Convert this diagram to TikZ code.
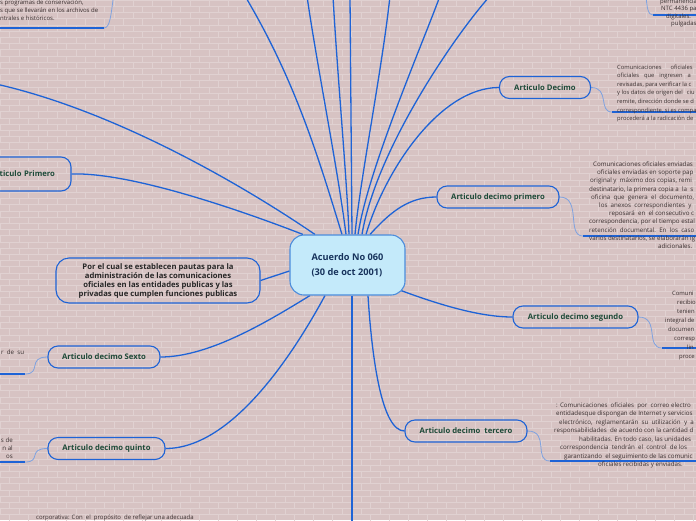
\documentclass[tikz,border=0pt]{standalone}
\usepackage{fontspec}
\setmainfont{Open Sans}
\usetikzlibrary{backgrounds}
\definecolor{bgc}{HTML}{D7C3C3}
\definecolor{brickc}{HTML}{E0D1D1}
\definecolor{connc}{HTML}{1E63D6}
\definecolor{thinc}{HTML}{7EA2E0}
\definecolor{labc}{HTML}{1D4A38}
\definecolor{txtc}{HTML}{3A3030}
\definecolor{ctrfill}{HTML}{C4EAFA}
\definecolor{ctrdraw}{HTML}{4C8DDC}
\definecolor{ctrtxt}{HTML}{17335C}
\begin{document}
\begin{tikzpicture}[x=1pt,y=-1pt,
  box/.style={draw=connc, line width=1.1pt, rounded corners=10pt, minimum height=22pt,
    inner xsep=4pt, inner ysep=2pt, font=\fontsize{7.7}{9}\selectfont\bfseries, text=labc},
  ctr/.style={draw=ctrdraw, fill=ctrfill, line width=1.1pt, rounded corners=14pt,
    minimum width=115pt, minimum height=60pt, align=left,
    font=\fontsize{9.2}{15}\selectfont\bfseries, text=ctrtxt},
  conn/.style={draw=connc, line width=1.3pt},
  thinl/.style={draw=thinc, line width=0.8pt},
  uline/.style={draw=connc, line width=1.8pt},
  blk/.style={font=\fontsize{6.2}{8.2}\selectfont, text=txtc, align=left, inner sep=0pt},
  brick/.style={draw=brickc, line width=0.6pt}]
\useasboundingbox (0,0) rectangle (696,520);

% ---------- nodes ----------
\node[ctr] (c) at (347.5,265) {Acuerdo No 060\\(30 de oct 2001)};

\node[box, minimum width=91pt]  (a10) at (545,87.5) {Articulo Decimo};
\node[box, minimum width=122pt] (a11) at (498,197) {Articulo decimo primero};
\node[box, minimum width=125pt] (a12) at (575.5,317) {Articulo decimo segundo};
\node[box, minimum width=122pt] (a13) at (466,431) {Articulo decimo\ \ tercero};
\node[box, minimum width=112pt] (a16) at (104,357) {Articulo decimo Sexto};
\node[box, minimum width=117pt] (a15) at (106.5,448.5) {Articulo decimo quinto};
\node[box, minimum height=34pt, inner xsep=16pt, text width=70pt, align=right] (a1) at (20,174) {ticulo Primero};
\node[box, minimum width=204pt, minimum height=45pt, rounded corners=13pt, align=center,
  text=black!85, font=\fontsize{7.7}{9}\selectfont\bfseries] (p) at (158,280.5)
  {Por el cual se establecen pautas para la\\administración de las comunicaciones\\oficiales en las entidades publicas y las\\privadas que cumplen funciones publicas};

% text blocks
\node[blk, anchor=north west, font=\fontsize{6}{7.8}\selectfont] (tl) at (0,0)
  {s programas de conservación,\\s que se llevarán en los archivos de\\ntrales e históricos.};
\node[blk, anchor=north west, font=\fontsize{6}{7.5}\selectfont] (tr) at (660,-1.5)
  {permanencia\\\hspace*{1pt}NTC 4436 pa\\\hspace*{6pt}digitales.\\\hspace*{11pt}pulgadas};
\node[blk, anchor=north west, font=\fontsize{5.8}{8.6}\selectfont] (b10) at (617,64.5)
  {Comunicaciones\hspace{9pt}oficiales\\oficiales\hspace{5pt}que\hspace{5pt}ingresen\hspace{5pt}a\\revisadas, para verificar la c\\y los datos de origen del\hspace{4pt}ciu\\remite, dirección donde se d\\correspondiente, si es compa\\procederá a la radicación de};
\node[blk, anchor=north west] (b11) at (589,161.5)
  {\hspace*{4pt}Comunicaciones oficiales enviadas\\
   \hspace*{8pt}oficiales enviadas en soporte pap\\
   \hspace*{1pt}original y\ \ máximo dos copias, remi\\
   destinatario, la primera copia a\ \ la\ \ s\\
   \hspace*{2pt}oficina\ \ que\ \ genera\ \ el\ \ documento,\\
   \hspace*{10pt}los\ \ anexos\ \ correspondientes\ \ y\\
   \hspace*{20pt}reposará\ \ en\ \ el consecutivo c\\
   correspondencia, por el tiempo estal\\
   retención\ \ documental.\ \ En\ \ los\ \ caso\\
   varios destinatarios, se elaborarán ig\\
   \hspace*{69pt}adicionales.};
\node[blk, anchor=north west, font=\fontsize{5.9}{9}\selectfont] (b12) at (665,290.5)
  {\hspace*{7pt}Comuni\\\hspace*{12pt}recibio\\\hspace*{12pt}tenien\\integral de\\\hspace*{3pt}documen\\\hspace*{9pt}corresp\\\hspace*{22pt}lin\\\hspace*{14pt}proce};
\node[blk, anchor=north west, font=\fontsize{6.2}{8.5}\selectfont] (b13) at (554,402.5)
  {\hspace*{2pt}: Comunicaciones\ \ oficiales\ \ por\ \ correo electro\\
   \hspace*{2pt}entidadesque dispongan de Internet y servicios\\
   \hspace*{5pt}electrónico,\ \ reglamentarán\ \ su\ \ utilización\ \ y\ \ a\\
   responsabilidades\ \ de acuerdo con la cantidad d\\
   \hspace*{25pt}habilitadas. En todo caso, las unidades\\
   \hspace*{6pt}correspondencia\ \ tendrán\ \ el\ \ control\ \ de los\\
   \hspace*{10pt}garantizando\ \ el seguimiento de las comunic\\
   \hspace*{44pt}oficiales recibidas y enviadas.};
\node[blk, anchor=west] (b16) at (1,352) {r\ \ de\ \ su};
\node[blk, anchor=north east, align=right] (b15) at (13,437.5) {s de\\n al\\os};
\node[blk, anchor=west, font=\fontsize{6}{8}\selectfont] (bb) at (36,517.5) {corporativa: Con\ \ el\ \ propósito\ \ de reflejar una adecuada};

% off-frame ends
\coordinate (t1) at (245,-4);
\coordinate (t2) at (307,-4);
\coordinate (t3) at (333,-4);
\coordinate (t4) at (350,-4);
\coordinate (t5) at (390,-4);
\coordinate (t6) at (440,-4);
\coordinate (t7) at (490,-4);
\coordinate (ul) at (-4,84);
\coordinate (tlc) at (113.5,-4);
\coordinate (trc) at (646,-4);
\coordinate (bot) at (352,524);
\coordinate (u10) at (612,112);
\coordinate (u11) at (583,236);
\coordinate (u12) at (662,348);
\coordinate (u13) at (550,461);
\coordinate (u16) at (25,374);
\coordinate (u15) at (25,462);
\coordinate (utl) at (104,28);
\coordinate (utr) at (653,15);

\begin{pgfonlayer}{background}
\begin{scope}
\clip (0,0) rectangle (696,520);
\fill[bgc] (0,0) rectangle (696,520);
\draw[brick] \foreach \r in {0,...,84} {
   (0,{\r*6.2}) -- (696,{\r*6.2})
   \foreach \k in {0,...,37} {
     ({\k*19+mod(\r,2)*9.5},{\r*6.2}) -- ({\k*19+mod(\r,2)*9.5},{\r*6.2+6.2})
   }
};
% main connectors
\draw[conn] (t1) .. controls (295,80) and (318,156) .. ([xshift=-5.5]c.north);
\draw[conn] (t2) .. controls (316,60) and (338,170) .. ([xshift=-1.5]c.north);
\draw[conn] (t3) .. controls (337,70) and (347,180) .. ([xshift=1.5]c.north);
\draw[conn] (t4) -- ([xshift=4.5]c.north);
\draw[conn] (t5) .. controls (382,70) and (360,180) .. ([xshift=7.5]c.north);
\draw[conn] (t6) .. controls (420,50) and (368,170) .. ([xshift=10.5]c.north);
\draw[conn] (t7) .. controls (455,35) and (376,150) .. ([xshift=14.5]c.north);
\draw[conn] ([xshift=18.5]c.north) .. controls (385,170) and (440,87.5) .. (a10.west);
\draw[conn] ([xshift=22.5]c.north) .. controls (392,210) and (410,197) .. (a11.west);
\draw[conn] ([xshift=-6,yshift=-25]c.east) .. controls (440,305) and (480,317) .. (a12.west);
\draw[conn] ([xshift=20.5]c.south) .. controls (372,360) and (382,431) .. (a13.west);
\draw[conn] ([xshift=4.5]c.south) -- (bot);
\draw[conn] ([xshift=-37.5]c.south) .. controls (270,320) and (210,357) .. (a16.east);
\draw[conn] ([xshift=-22.5]c.south) .. controls (290,360) and (230,448.5) .. (a15.east);
\draw[conn] (p.east) -- ([yshift=-6]c.west);
\draw[conn] (a1.east) .. controls (130,172) and (240,210) .. ([xshift=-44.5]c.north);
\draw[conn] (ul) .. controls (120,112) and (250,190) .. ([xshift=-32.5]c.north);
% sub connectors and underlines
\draw[thinl] (a10.east) .. controls (610,87.5) and (598,112) .. (u10);
\draw[uline] (u10) -- (700,112);
\draw[thinl] (a11.east) .. controls (582,197) and (566,236) .. (u11);
\draw[uline] (u11) -- (700,236);
\draw[thinl] (a12.east) .. controls (660,317) and (645,348) .. (u12);
\draw[uline] (u12) -- (700,348);
\draw[thinl] (a13.east) .. controls (550,431) and (533,461) .. (u13);
\draw[uline] (u13) -- (700,461);
\draw[thinl] (a16.west) .. controls (27,357) and (42,374) .. (u16);
\draw[uline] (u16) -- (-5,374);
\draw[thinl] (a15.west) .. controls (27,448.5) and (42,462) .. (u15);
\draw[uline] (u15) -- (-5,462);
\draw[thinl] (tlc) .. controls (111,15) and (110,28) .. (utl);
\draw[uline] (utl) -- (-5,28);
\draw[thinl] (trc) .. controls (647,8) and (648,15) .. (utr);
\draw[uline] (utr) -- (700,15);
\end{scope}
\end{pgfonlayer}
\end{tikzpicture}
\end{document}
